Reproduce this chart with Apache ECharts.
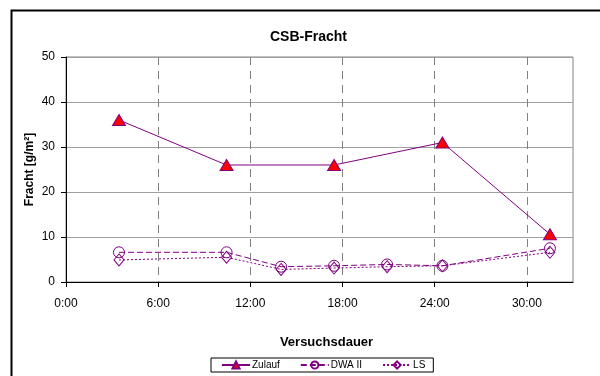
<!DOCTYPE html>
<html>
<head>
<meta charset="utf-8">
<script src="https://cdn.jsdelivr.net/npm/echarts@6/dist/echarts.min.js"></script>
<style>
html,body{margin:0;padding:0;background:#fff;}
#chart{width:600px;height:376px;}
</style>
</head>
<body>
<div id="chart"></div>
<script>
// Data (x in hours of test duration)
const title = 'CSB-Fracht';
const xName = 'Versuchsdauer';
const yName = 'Fracht [g/m²]';
const xTicks = [0, 6, 12, 18, 24, 30];
const zulaufX = [3.45, 10.45, 17.45, 24.5, 31.5];
const zulaufY = [36, 26, 26, 31, 10.6];
const dwaX = [3.45, 10.45, 14.0, 17.45, 20.9, 24.5, 31.5];
const dwaY = [6.6, 6.6, 3.4, 3.6, 3.9, 3.6, 7.5];
const lsX = [3.45, 10.45, 14.0, 17.45, 20.9, 24.5, 31.5];
const lsY = [4.9, 5.5, 2.8, 3.1, 3.4, 3.6, 6.6];

const zip = (xs, ys) => xs.map((x, i) => [x, ys[i]]);
const FONT = 'Liberation Sans, Arial, sans-serif';
const PURPLE = '#800080';

const chart = echarts.init(document.getElementById('chart'), null, {renderer: 'canvas'});
chart.setOption({
  animation: false,
  backgroundColor: '#fff',
  textStyle: {fontFamily: FONT},
  graphic: [{
    type: 'rect', left: 9, top: 8, z: 100,
    shape: {width: 620, height: 400},
    style: {fill: 'none', stroke: '#000', lineWidth: 2}
  }],
  title: {
    text: title, left: 265, top: 25,
    textStyle: {fontFamily: FONT, fontSize: 14, fontWeight: 'bold', color: '#000'}
  },
  legend: {
    left: 211, top: 358, width: 222, height: 15,
    orient: 'horizontal',
    borderColor: '#000', borderWidth: 1, padding: [2, 8, 2, 10],
    itemWidth: 28, itemHeight: 9, itemGap: 20,
    textStyle: {fontFamily: FONT, fontSize: 10, color: '#000', padding: [0, 0, 0, -3]},
    data: ['Zulauf', 'DWA II', 'LS']
  },
  grid: {
    left: 66, right: 27, top: 57, bottom: 94,
    show: true, borderColor: '#808080', borderWidth: 1, backgroundColor: 'transparent'
  },
  xAxis: {
    type: 'value', min: 0, max: 33, interval: 6,
    name: xName, nameLocation: 'middle', nameGap: 54,
    nameTextStyle: {fontFamily: FONT, fontSize: 13, fontWeight: 'bold', color: '#000', padding: [0, 0, 0, 14]},
    axisLine: {onZero: false, lineStyle: {color: '#000', width: 1}},
    axisTick: {show: true, length: 5, lineStyle: {color: '#000'}, customValues: xTicks},
    axisLabel: {color: '#000', fontSize: 12, margin: 16, fontFamily: FONT,
      customValues: xTicks, formatter: v => v + ':00'},
    splitLine: {show: true, lineStyle: {color: '#808080', type: [8, 6], width: 1}}
  },
  yAxis: {
    type: 'value', min: 0, max: 50, interval: 10,
    name: yName, nameLocation: 'middle', nameGap: 30, nameMoveOverlap: false,
    nameTextStyle: {fontFamily: FONT, fontSize: 12, fontWeight: 'bold', color: '#000'},
    axisLine: {show: true, lineStyle: {color: '#000', width: 1}},
    axisTick: {show: true, length: 5, lineStyle: {color: '#000'}},
    axisLabel: {color: '#000', fontSize: 12, margin: 11, fontFamily: FONT},
    splitLine: {show: true, lineStyle: {color: '#a0a0a0', width: 1}}
  },
  series: [
    {
      name: 'Zulauf', type: 'line', data: zip(zulaufX, zulaufY),
      symbol: 'triangle', symbolSize: [13, 11],
      lineStyle: {color: PURPLE, width: 1},
      itemStyle: {color: '#ff0000', borderColor: PURPLE, borderWidth: 1},
      z: 5
    },
    {
      name: 'DWA II', type: 'line', data: zip(dwaX, dwaY),
      symbol: 'circle', symbolSize: 11,
      lineStyle: {color: PURPLE, width: 1, type: [6, 3]},
      itemStyle: {color: 'rgba(255,255,255,0)', borderColor: PURPLE, borderWidth: 1},
      z: 4
    },
    {
      name: 'LS', type: 'line', data: zip(lsX, lsY),
      symbol: 'diamond', symbolSize: [10, 12],
      lineStyle: {color: PURPLE, width: 1, type: [2, 2]},
      itemStyle: {color: 'rgba(255,255,255,0)', borderColor: PURPLE, borderWidth: 1},
      z: 3
    }
  ]
});
</script>
</body>
</html>
